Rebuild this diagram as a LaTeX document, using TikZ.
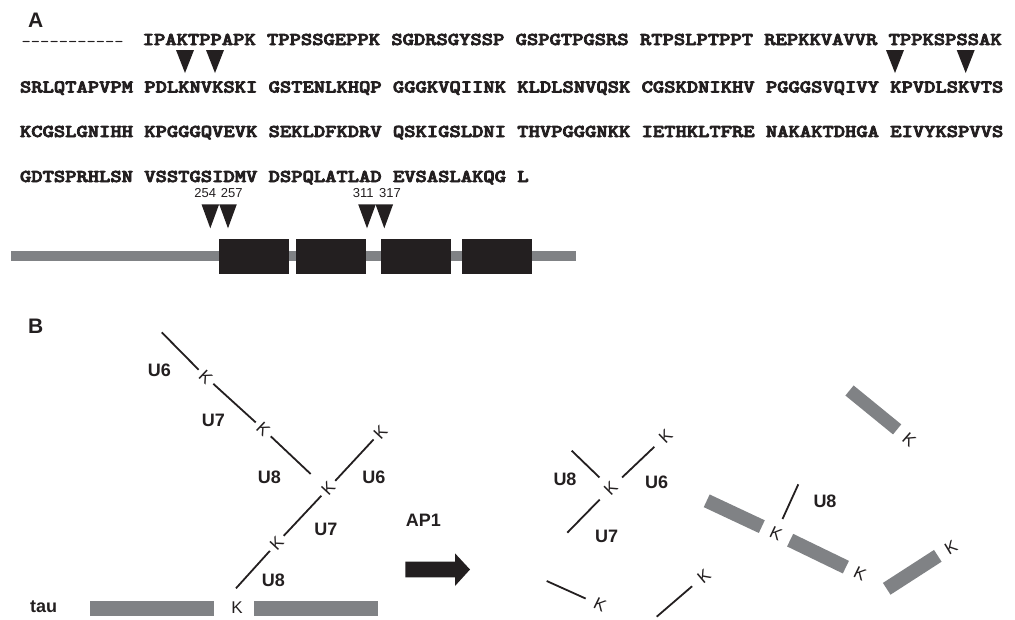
\documentclass[tikz,border=0pt]{standalone}
\usepackage{fontspec}
\setmainfont{Liberation Sans}
\newfontfamily\seqfont{lmmonolt10-bold.otf}[FakeBold=4]
\usepackage{graphicx}
\definecolor{ink}{HTML}{231F20}
\definecolor{bargray}{HTML}{808285}
\tikzset{
  panel/.style={font=\fontsize{21}{21}\selectfont\bfseries, anchor=base west, inner sep=0pt, text=ink},
  seq/.style={font=\fontsize{18}{18}\seqfont, anchor=base west, inner sep=0pt, text=ink},
  gapdash/.style={font=\fontsize{18}{18}\selectfont\ttfamily, anchor=base west, inner sep=0pt, text=ink},
  num/.style={font=\fontsize{13}{13}\selectfont, anchor=base, inner sep=0pt, text=ink},
  lbl/.style={font=\fontsize{18}{18}\selectfont\bfseries, inner sep=0pt, text=ink},
  knode/.style={circle, inner sep=0pt, minimum size=20pt, font=\fontsize{17}{17}\selectfont, text=ink},
  kwide/.style={knode, minimum size=31pt},
  chain/.style={draw=ink, line width=1.8pt},
  graybar/.style={draw=bargray, line width=14pt},
  repbox/.style={fill=ink, draw=none, inner sep=0pt, minimum height=35pt},
  taubar/.style={fill=bargray, draw=none, inner sep=0pt, minimum height=15pt},
}
\newcommand\seqline[1]{\scalebox{1.196}[1]{#1}}
\begin{document}
\begin{tikzpicture}[x=1pt,y=-1pt]
\useasboundingbox (0,0) rectangle (1015,619);

% ---------- panel A: sequence ----------
\node[panel] (A) at (28,27.3) {A};
\node[gapdash] (s0) at (21.5,47.5) {-----------};
\node[seq] (s1) at (142.5,45) {\seqline{IPAKTPPAPK TPPSSGEPPK SGDRSGYSSP GSPGTPGSRS RTPSLPTPPT REPKKVAVVR TPPKSPSSAK}};
\node[seq] (s2) at (19.8,92.5) {\seqline{SRLQTAPVPM PDLKNVKSKI GSTENLKHQP GGGKVQIINK KLDLSNVQSK CGSKDNIKHV PGGGSVQIVY KPVDLSKVTS}};
\node[seq] (s3) at (19.8,137) {\seqline{KCGSLGNIHH KPGGGQVEVK SEKLDFKDRV QSKIGSLDNI THVPGGGNKK IETHKLTFRE NAKAKTDHGA EIVYKSPVVS}};
\node[seq] (s4) at (19.8,182) {\seqline{GDTSPRHLSN VSSTGSIDMV DSPQLATLAD EVSASLAKQG L}};

% cleavage-site markers in the sequence
\foreach \x in {185,215,895,965.7}
  \fill[ink] (\x-9,50) -- (\x+9,50) -- (\x,73) -- cycle;

% ---------- panel A: domain map ----------
\fill[bargray] (11,250.7) rectangle (576,260.7);
\node[repbox, minimum width=69.7pt] (r1) at (253.85,256.5) {};
\node[repbox, minimum width=70pt] (r2) at (331,256.5) {};
\node[repbox, minimum width=70pt] (r3) at (416,256.5) {};
\node[repbox, minimum width=70pt] (r4) at (497,256.5) {};

\foreach \x in {210.3,228,367,384.3}
  \fill[ink] (\x-8.8,204.3) -- (\x+8.8,204.3) -- (\x,228.3) -- cycle;
\node[num] (n254) at (205.3,197) {254};
\node[num] (n257) at (231.7,197) {257};
\node[num] (n311) at (363.3,197) {311};
\node[num] (n317) at (390,197) {317};

% ---------- panel B: ubiquitin chain on tau ----------
\node[panel] (B) at (28,333) {B};

\node[lbl, anchor=base west] (tau) at (30,612) {tau};
\node[taubar, minimum width=123.7pt] (tb1) at (151.85,608.5) {};
\node[taubar, minimum width=123.7pt] (tb2) at (315.85,608.5) {};
\node[knode] (kt) at (237,607.5) {K};

% branch U6-U7-U8
\coordinate (a0) at (161.7,332.3);
\coordinate (a3) at (310.7,474);
\node[knode, rotate=-43.6] (k1) at (205.8,377) {K};
\node[knode, rotate=-43.6] (k2) at (263.3,429.3) {K};
\draw[chain] (a0) -- (k1);
\draw[chain] (k1) -- (k2);
\draw[chain] (k2) -- (a3);

% branch rising from tau
\coordinate (b0) at (236,588.3);
\node[knode, rotate=47] (k3) at (276.7,543.3) {K};
\node[knode, rotate=47] (k4) at (328.3,488.3) {K};
\node[knode, rotate=47] (k5) at (380.5,432) {K};
\draw[chain] (b0) -- (k3);
\draw[chain] (k3) -- (k4);
\draw[chain] (k4) -- (k5);

\node[lbl] (u6a) at (159.3,370) {U6};
\node[lbl] (u7a) at (213.3,420) {U7};
\node[lbl] (u8a) at (269.3,477.3) {U8};
\node[lbl] (u6b) at (374,477.3) {U6};
\node[lbl] (u7b) at (326,529.3) {U7};
\node[lbl] (u8b) at (273.3,580) {U8};

% AP1 step
\node[lbl] (ap1) at (423.3,520) {AP1};
\fill[ink] (405.3,561.7) -- (455,561.7) -- (455,553.3) -- (470,569.5)
  -- (455,586) -- (455,577.3) -- (405.3,577.3) -- cycle;

% ---------- products ----------
\node[kwide, rotate=45] (k6) at (610.7,488.3) {K};
\node[kwide, rotate=44] (k7) at (665.7,436) {K};
\coordinate (c1) at (571.7,450.7);
\coordinate (c2) at (567.3,532.7);
\draw[chain] (c1) -- (k6);
\draw[chain] (k6) -- (k7);
\draw[chain] (c2) -- (k6);
\node[lbl] (u8c) at (565,479.3) {U8};
\node[lbl] (u6c) at (656.7,482.7) {U6};
\node[lbl] (u7c) at (606.7,536) {U7};

\node[kwide, rotate=-26] (k8) at (600,605) {K};
\node[kwide, rotate=40] (k9) at (704,576) {K};
\coordinate (d0) at (546.7,581);
\coordinate (d1) at (656.7,616.7);
\draw[chain] (d0) -- (k8);
\draw[chain] (d1) -- (k9);

\node[kwide, rotate=-25] (k10) at (776,533.3) {K};
\node[kwide, rotate=-26] (k11) at (860,574) {K};
\node[kwide, rotate=31] (k12) at (951,547.3) {K};
\node[kwide, rotate=-41] (k13) at (909.3,439.3) {K};
\coordinate (m0) at (798.3,484.3);
\draw[chain] (m0) -- (k10);
\node[lbl] (u8d) at (825,501.7) {U8};

\coordinate (g0) at (706.7,500.8);
\coordinate (g1) at (886.7,588.8);
\coordinate (g2) at (849.5,390.5);
\draw[graybar] (g0) -- (k10);
\draw[graybar] (k10) -- (k11);
\draw[graybar] (g1) -- (k12);
\draw[graybar, line width=13pt] (g2) -- (k13);
\end{tikzpicture}
\end{document}
